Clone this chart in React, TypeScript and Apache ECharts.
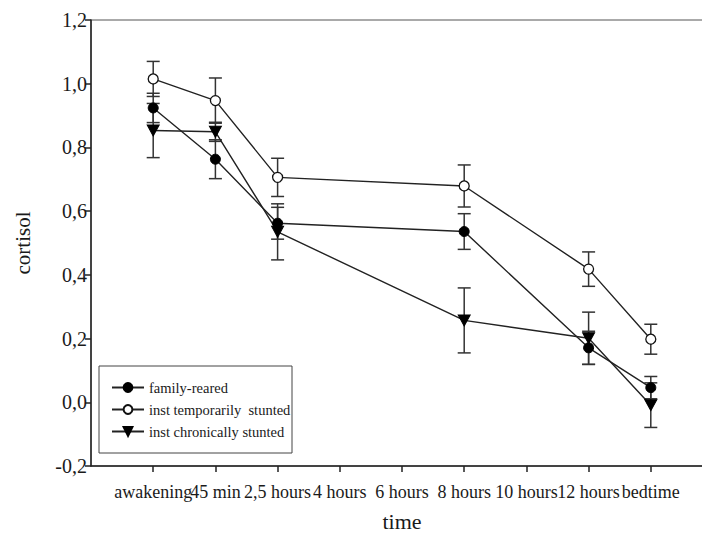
import React, { useEffect, useRef } from "react";
import * as echarts from "echarts";

const timeLabels = ["", "awakening", "45 min", "2,5 hours", "4 hours", "6 hours", "8 hours", "10 hours", "12 hours", "bedtime", ""];
const timeIndex = [1, 2, 3, 6, 8, 9];

const familyReared = [0.924, 0.763, 0.562, 0.536, 0.171, 0.046];
const familyRearedSE = [0.046, 0.061, 0.05, 0.056, 0.052, 0.035];
const tempStunted = [1.015, 0.947, 0.706, 0.679, 0.418, 0.198];
const tempStuntedSE = [0.055, 0.071, 0.06, 0.066, 0.054, 0.047];
const chronStunted = [0.853, 0.849, 0.535, 0.257, 0.201, -0.009];
const chronStuntedSE = [0.085, 0.03, 0.088, 0.102, 0.082, 0.07];

const yTicks = [-0.2, 0, 0.2, 0.4, 0.6, 0.8, 1.0, 1.2];

const FONT = "Liberation Serif, Times New Roman, serif";
const INK = "#1a1a1a";

function pts(vals: number[]) {
  return vals.map((v, i) => [timeIndex[i], v]);
}
function errs(vals: number[], se: number[]) {
  return vals.map((v, i) => [timeIndex[i], v - se[i], v + se[i]]);
}

function errorSeries(name: string, data: number[][]) {
  return {
    type: "custom",
    name: name + "-err",
    z: 1,
    silent: true,
    data,
    renderItem: (params: any, api: any) => {
      const x = api.value(0);
      const lo = api.coord([x, api.value(1)]);
      const hi = api.coord([x, api.value(2)]);
      const hw = 6.5;
      const style = { stroke: "#333", lineWidth: 1.5, fill: "none" };
      return {
        type: "group",
        children: [
          { type: "line", shape: { x1: lo[0], y1: lo[1], x2: hi[0], y2: hi[1] }, style },
          { type: "line", shape: { x1: lo[0] - hw, y1: lo[1], x2: lo[0] + hw, y2: lo[1] }, style },
          { type: "line", shape: { x1: hi[0] - hw, y1: hi[1], x2: hi[0] + hw, y2: hi[1] }, style },
        ],
      };
    },
  };
}

export default function App() {
  const ref = useRef<HTMLDivElement>(null);
  useEffect(() => {
    if (!ref.current) return;
    const chart = echarts.init(ref.current, null, { renderer: "svg" });
    chart.setOption({
      animation: false,
      backgroundColor: "#fff",
      textStyle: { fontFamily: FONT },
      grid: {
        left: 91,
        right: -11,
        top: 20,
        bottom: 67,
        containLabel: false,
        outerBoundsMode: "none",
        show: true,
        borderColor: "#555",
        borderWidth: 1,
      },
      xAxis: {
        type: "category",
        data: timeLabels,
        boundaryGap: false,
        name: "time",
        nameLocation: "middle",
        nameGap: 44,
        nameMoveOverlap: false,
        nameTextStyle: { fontFamily: FONT, fontSize: 22, color: INK },
        splitLine: { show: false },
        axisLine: { show: true, onZero: false, lineStyle: { color: "#222", width: 1.5 } },
        axisTick: {
          show: true,
          length: 6,
          lineStyle: { color: "#222", width: 1.5 },
          interval: (idx: number) => idx > 0 && idx < timeLabels.length - 1,
        },
        axisLabel: {
          fontFamily: FONT,
          fontSize: 18,
          color: INK,
          margin: 17,
          interval: 0,
          hideOverlap: false,
        },
      },
      yAxis: {
        type: "value",
        min: -0.2,
        max: 1.2,
        interval: 0.2,
        name: "cortisol",
        nameLocation: "middle",
        nameGap: 58,
        nameMoveOverlap: false,
        nameRotate: 90,
        nameTextStyle: { fontFamily: FONT, fontSize: 21, color: INK },
        splitLine: { show: false },
        axisLine: { show: true, onZero: false, lineStyle: { color: "#222", width: 1.5 } },
        axisTick: { show: true, length: 6, lineStyle: { color: "#222", width: 1.5 } },
        axisLabel: {
          fontFamily: FONT,
          fontSize: 20,
          color: INK,
          margin: 4,
          showMinLabel: true,
          showMaxLabel: true,
          formatter: (v: number) => {
            const t = yTicks.find((k) => Math.abs(k - v) < 1e-6);
            return (t ?? v).toFixed(1).replace(".", ",");
          },
        },
      },
      graphic: [
        {
          type: "rect",
          z: 5,
          shape: { x: 99, y: 366, width: 193, height: 87 },
          style: { fill: "#fff", stroke: "#444", lineWidth: 1 },
        },
      ],
      legend: {
        z: 10,
        orient: "vertical",
        left: 111,
        top: 380,
        padding: 0,
        itemWidth: 32,
        itemHeight: 11,
        itemGap: 7,
        data: ["family-reared", "inst temporarily  stunted", "inst chronically stunted"],
        textStyle: { fontFamily: FONT, fontSize: 14.5, color: INK, lineHeight: 15 },
      },
      series: [
        errorSeries("family", errs(familyReared, familyRearedSE)),
        errorSeries("temp", errs(tempStunted, tempStuntedSE)),
        errorSeries("chron", errs(chronStunted, chronStuntedSE)),
        {
          type: "line",
          name: "family-reared",
          z: 3,
          data: pts(familyReared),
          symbol: "circle",
          symbolSize: 10,
          lineStyle: { color: "#222", width: 1.4 },
          itemStyle: { color: "#000", borderColor: "#000", borderWidth: 1 },
        },
        {
          type: "line",
          name: "inst temporarily  stunted",
          z: 3,
          data: pts(tempStunted),
          symbol: "circle",
          symbolSize: 10,
          lineStyle: { color: "#222", width: 1.4 },
          itemStyle: { color: "#fff", borderColor: "#111", borderWidth: 1.3 },
        },
        {
          type: "line",
          name: "inst chronically stunted",
          z: 3,
          data: pts(chronStunted),
          symbol: "triangle",
          symbolRotate: 180,
          symbolSize: [12, 11],
          lineStyle: { color: "#222", width: 1.4 },
          itemStyle: { color: "#000", borderColor: "#000", borderWidth: 1 },
        },
      ],
    });
    return () => chart.dispose();
  }, []);
  return <div ref={ref} style={{ width: 702, height: 533, position: "fixed", left: 0, top: 0 }} />;
}
